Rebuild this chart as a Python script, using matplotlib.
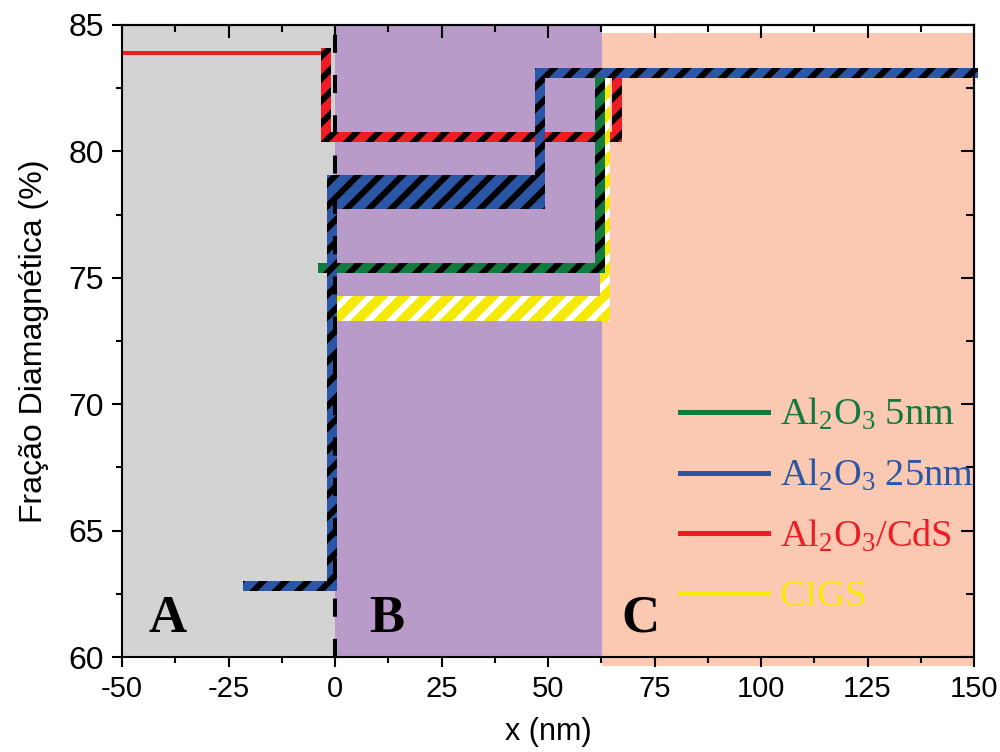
import matplotlib
matplotlib.use('Agg')
import matplotlib.pyplot as plt
from matplotlib.patches import Rectangle
from matplotlib.lines import Line2D
from matplotlib.ticker import MultipleLocator
from matplotlib.font_manager import FontProperties

plt.rcParams['hatch.linewidth'] = 2.2
plt.rcParams['axes.unicode_minus'] = False
plt.rcParams['mathtext.fontset'] = 'custom'
plt.rcParams['mathtext.rm'] = 'Liberation Serif'
plt.rcParams['mathtext.it'] = 'Liberation Serif:italic'

# ---------------- data ----------------
labels = ['Al$_2$O$_3$ 5nm', 'Al$_2$O$_3$ 25nm', 'Al$_2$O$_3$/CdS', 'CIGS']
colors = ['#117a3f', '#2b55a5', '#ee1c25', '#f4ea06']
hatch_colors = ['black', 'black', 'black', 'white']

# step profiles: x edges, lower / upper value of each level
green_x = [-2.8, 62.2, 62.2]
green_lo = [75.4, 82.7]
green_hi = [75.4, 82.7]

blue_x = [-20.4, -0.8, 48.2, 149.8]
blue_lo = [62.8, 77.9, 83.1]
blue_hi = [62.8, 78.85, 83.1]

red_x = [-2.2, -2.2, 66.1, 66.1]
red_lo = [83.9, 80.55, 82.7]
red_hi = [83.9, 80.55, 82.7]
red_lead_x = [-50, -2.2]
red_lead_y = [83.9, 83.9]

yellow_x = [-0.8, 63.3, 63.3]
yellow_lo = [73.5, 82.7]
yellow_hi = [74.1, 82.7]

region_edges = [-50, 0, 62.6, 150]
region_colors = ['#d3d3d3', '#b89bc9', '#fbc9b2']
region_labels = ['A', 'B', 'C']
region_label_x = [-39.2, 12.2, 71.6]
region_label_y = 61.0
peach_ylim = (59.65, 84.68)

xlim = (-50, 150)
ylim = (60, 85)

# ---------------- figure ----------------
fig = plt.figure(figsize=(5, 3.76), dpi=200)
ax = fig.add_axes([0.122, 0.1263, 0.852, 0.8405])
ax.set_xlim(*xlim)
ax.set_ylim(*ylim)

# background regions
ax.axvspan(region_edges[0], region_edges[1], color=region_colors[0], lw=0, zorder=0)
ax.axvspan(region_edges[1], region_edges[2], color=region_colors[1], lw=0, zorder=0)
ax.add_patch(Rectangle((region_edges[2], peach_ylim[0]), region_edges[3] - region_edges[2],
                       peach_ylim[1] - peach_ylim[0], facecolor=region_colors[2], lw=0,
                       zorder=0, clip_on=False))

# half thickness of hatched bars (5 px) in data units
fig_w_px = fig.get_figwidth() * fig.dpi
fig_h_px = fig.get_figheight() * fig.dpi
pos = ax.get_position()
hx = 5.0 / (pos.width * fig_w_px / (xlim[1] - xlim[0]))
hy = 5.0 / (pos.height * fig_h_px / (ylim[1] - ylim[0]))


def rect(x0, y0, x1, y1, color, hc, z):
    ax.add_patch(Rectangle((x0, y0), x1 - x0, y1 - y0, facecolor=color, edgecolor=hc,
                           hatch='///', lw=0, zorder=z, clip_on=False))


def draw_steps(xs, lo, hi, color, hc, z):
    for i in range(len(lo)):
        x0, x1 = xs[i], xs[i + 1]
        rect(x0 - hx, lo[i] - hy, x1 + hx, hi[i] + hy, color, hc, z)
        if i + 1 < len(lo):
            y0 = min(lo[i], lo[i + 1])
            y1 = max(hi[i], hi[i + 1])
            rect(x1 - hx, y0 - hy, x1 + hx, y1 + hy, color, hc, z)


ax.plot(red_lead_x, red_lead_y, color=colors[2], lw=1.45, solid_capstyle='butt', zorder=2)
draw_steps(red_x, red_lo, red_hi, colors[2], hatch_colors[2], 2)
draw_steps(yellow_x, yellow_lo, yellow_hi, colors[3], hatch_colors[3], 3)
draw_steps(green_x, green_lo, green_hi, colors[0], hatch_colors[0], 4)
draw_steps(blue_x, blue_lo, blue_hi, colors[1], hatch_colors[1], 5)

ax.axvline(0, color='black', lw=1.45, dashes=(4.5, 5.5), zorder=10)

for lab, lx in zip(region_labels, region_label_x):
    ax.text(lx, region_label_y, lab, ha='center', va='baseline',
            family='Liberation Serif', weight='bold', fontsize=19, zorder=11)

# legend
handles = [Line2D([], [], color=c, lw=1.8) for c in colors]
leg = ax.legend(handles, labels, loc='upper left', bbox_to_anchor=(0.655, 0.412),
                frameon=False, labelcolor='linecolor',
                prop=FontProperties(family='Liberation Serif', size=13.8),
                handlelength=2.3, handletextpad=0.3, labelspacing=0.64,
                borderaxespad=0, borderpad=0)
leg.set_zorder(12)

# axes styling
for s in ax.spines.values():
    s.set_linewidth(0.75)
    s.set_zorder(13)
ax.xaxis.set_major_locator(MultipleLocator(25))
ax.xaxis.set_minor_locator(MultipleLocator(12.5))
ax.yaxis.set_major_locator(MultipleLocator(5))
ax.yaxis.set_minor_locator(MultipleLocator(2.5))
ax.tick_params(which='both', direction='out', width=0.75, top=False, right=False)
ax.tick_params(which='major', length=3.6)
ax.tick_params(which='minor', length=2.2)
ax.tick_params(axis='x', labelsize=10.5, pad=3)
ax.tick_params(axis='y', labelsize=11.5, pad=3)
for t in ax.get_xticklabels():
    t.set_family('Liberation Sans')
for t in ax.get_yticklabels():
    t.set_family('Liberation Sans')

top = ax.secondary_xaxis('top')
top.xaxis.set_major_locator(MultipleLocator(25))
top.xaxis.set_minor_locator(MultipleLocator(12.5))
top.tick_params(which='both', direction='in', width=0.75, labeltop=False)
top.tick_params(which='major', length=4.6)
top.tick_params(which='minor', length=2.6)
top.spines['top'].set_linewidth(0.75)

right = ax.secondary_yaxis('right')
right.yaxis.set_major_locator(MultipleLocator(5))
right.yaxis.set_minor_locator(MultipleLocator(2.5))
right.tick_params(which='both', direction='in', width=0.75, labelright=False)
right.tick_params(which='major', length=4.6)
right.tick_params(which='minor', length=2.9)
right.spines['right'].set_linewidth(0.75)

ax.set_xlabel('x (nm)', family='Liberation Sans', fontsize=11, labelpad=5)
ax.set_ylabel('Fração Diamagnética (%)', family='Liberation Sans',
              fontsize=11.5, labelpad=7)

fig.savefig('out.png', dpi=200)
